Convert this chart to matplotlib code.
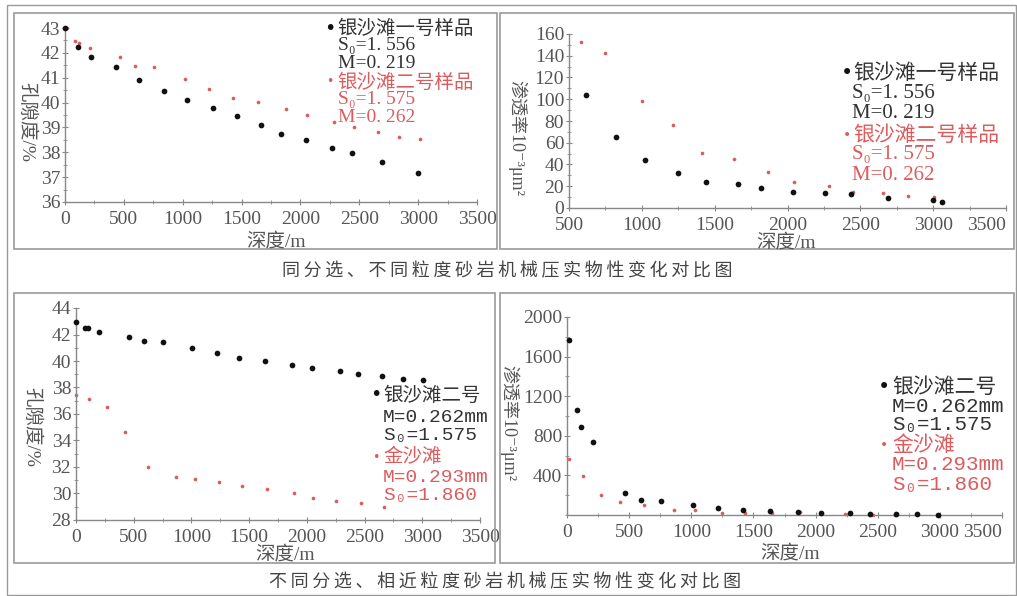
import numpy as np
import matplotlib
matplotlib.use("Agg")
import matplotlib.pyplot as plt
from matplotlib.patches import Rectangle
from matplotlib.ticker import MultipleLocator

plt.rcParams['font.family'] = ['Liberation Serif', 'Noto Sans CJK SC', 'DejaVu Sans']

# 上左: 孔隙度, 同分选不同粒度
tl_black_x = [0, 108, 218, 433, 632, 841, 1034, 1261, 1459, 1669, 1833, 2048, 2266, 2442, 2697, 3003]
tl_black_y = [43.0, 42.23, 41.83, 41.43, 40.91, 40.48, 40.09, 39.80, 39.46, 39.11, 38.75, 38.49, 38.18, 37.97, 37.59, 37.15]
tl_red_x = [14, 85, 119, 212, 467, 598, 759, 1023, 1227, 1425, 1638, 1875, 2057, 2286, 2456, 2657, 2836, 3012]
tl_red_y = [43.0, 42.46, 42.39, 42.19, 41.82, 41.47, 41.45, 40.95, 40.56, 40.20, 40.01, 39.73, 39.49, 39.22, 39.02, 38.83, 38.63, 38.52]

# 上右: 渗透率
tr_black_x = [614, 825, 1019, 1250, 1442, 1657, 1820, 2040, 2257, 2434, 2690, 2996, 3058]
tr_black_y = [103.5, 65.7, 44.2, 32.2, 24.0, 22.1, 18.7, 14.4, 13.5, 12.6, 8.9, 7.4, 5.8]
tr_red_x = [585, 745, 1003, 1215, 1412, 1632, 1867, 2045, 2287, 2447, 2653, 2829, 3007]
tr_red_y = [152.3, 142.5, 98.0, 76.2, 51.0, 45.1, 33.5, 24.3, 20.3, 14.4, 13.5, 11.1, 10.4]

# 下左: 孔隙度, 不同分选相近粒度
bl_black_x = [0, 78, 107, 202, 459, 589, 751, 1008, 1222, 1409, 1637, 1871, 2047, 2287, 2446, 2654, 2830, 3006]
bl_black_y = [42.97, 42.51, 42.46, 42.19, 41.83, 41.48, 41.46, 40.98, 40.57, 40.20, 40.02, 39.72, 39.47, 39.24, 39.04, 38.84, 38.63, 38.53]
bl_red_x = [0, 116, 269, 422, 624, 863, 1034, 1239, 1435, 1655, 1886, 2051, 2255, 2472, 2671]
bl_red_y = [37.40, 37.10, 36.52, 34.63, 31.98, 31.28, 31.10, 30.85, 30.57, 30.32, 30.02, 29.69, 29.46, 29.31, 28.96]

# 下右: 渗透率
br_black_x = [13, 80, 115, 212, 464, 593, 754, 1011, 1217, 1413, 1633, 1861, 2043, 2279, 2440, 2647, 2816, 2985]
br_black_y = [1771, 1060, 886, 738, 218, 151, 141, 97, 74, 47, 44, 30, 20, 20, 13, 13, 8, 5]
br_red_x = [13, 126, 276, 426, 622, 858, 1032, 1247, 1432, 1649, 1877, 2046, 2234, 2462, 2641]
br_red_y = [570, 389, 201, 134, 100, 54, 47, 20, 20, 20, 27, 20, 13, 5, 5]

legend_top = ["银沙滩一号样品", "S₀=1. 556", "M=0. 219", "银沙滩二号样品", "S₀=1. 575", "M=0. 262"]
legend_bottom = ["银沙滩二号", "M=0.262mm", "S₀=1.575", "金沙滩", "M=0.293mm", "S₀=1.860"]
captions = ["同分选、不同粒度砂岩机械压实物性变化对比图", "不同分选、相近粒度砂岩机械压实物性变化对比图"]

W, H = 1017, 596
BLACK = '#111111'
RED = '#dc5c5e'
GRAY = '#555555'
EDGE = '#9a9a9a'

fig = plt.figure(figsize=(W / 100, H / 100), dpi=100)
fig.patch.set_facecolor('white')


def px_rect(x0, y0, x1, y1):
    return [x0 / W, 1 - y1 / H, (x1 - x0) / W, (y1 - y0) / H]


def box(x0, y0, x1, y1, lw=1.2):
    fig.patches.append(Rectangle((x0 / W, 1 - y1 / H), (x1 - x0) / W, (y1 - y0) / H,
                                 transform=fig.transFigure, fill=False,
                                 edgecolor=EDGE, linewidth=lw))


def ftext(x, y, s, **kw):
    fig.text(x / W, 1 - y / H, s, **kw)


# outer frame and panel boxes
box(7, 5, 1016, 595, lw=1.0)
box(14, 13, 497, 249)
box(500, 13, 1014, 249)
box(14, 293, 495, 563)
box(500, 293, 1014, 563)


def make_axes(rect, xlim, ylim, xstep, ystep, yminor, shift_last=False):
    ax = fig.add_axes(px_rect(*rect))
    ax.set_xlim(*xlim)
    ax.set_ylim(*ylim)
    ax.set_xticks(np.arange(xlim[0], xlim[1] + 1, xstep))
    ax.xaxis.set_minor_locator(MultipleLocator(xstep / 2))
    ax.yaxis.set_major_locator(MultipleLocator(ystep))
    ax.yaxis.set_minor_locator(MultipleLocator(yminor))
    for side in ['top', 'right']:
        ax.spines[side].set_visible(False)
    for side in ['left', 'bottom']:
        ax.spines[side].set_color('#888888')
        ax.spines[side].set_linewidth(1.0)
    ax.tick_params(which='major', direction='inout', length=5, width=0.8,
                   colors='#888888', labelcolor=GRAY, labelsize=14, pad=1)
    ax.tick_params(axis='x', which='major', pad=4)
    ax.tick_params(which='minor', direction='inout', length=3, width=0.6, colors='#888888')
    ax.patch.set_alpha(0)
    if shift_last:
        ax.get_xticklabels()[-1].set_horizontalalignment('right')
    return ax


def draw_legend(x_marker, x_text, ys, lines, size, latin_family, indent=0):
    for i, (y, s) in enumerate(zip(ys, lines)):
        fam = ['Noto Sans CJK SC'] if i in (0, 3) else latin_family
        x = x_text if i in (0, 3) else x_text + indent
        ftext(x, y, s, fontsize=size, color='#333333' if i < 3 else RED,
              va='center', ha='left', family=fam)
    ftext(x_marker, ys[0], '•', fontsize=size, color=BLACK, va='center', ha='center',
          family=['DejaVu Sans'])
    ftext(x_marker, ys[3], '•', fontsize=size - 5, color=RED, va='center', ha='center',
          family=['DejaVu Sans'])


serif = ['Liberation Serif', 'DejaVu Serif']
mono = ['Liberation Mono', 'DejaVu Sans Mono']

# ---- top left
ax1 = make_axes((65, 28, 477, 202), (0, 3500), (36, 43), 500, 1, 0.5)
ax1.scatter(tl_red_x, tl_red_y, s=7, color=RED, zorder=2, clip_on=False, linewidths=0)
ax1.scatter(tl_black_x, tl_black_y, s=17, color=BLACK, zorder=3, clip_on=False, linewidths=0)
ftext(276, 241, "深度/m", fontsize=14, color=GRAY, ha='center', va='center')
ftext(27, 122, "孔隙度/%", fontsize=14, color=GRAY, ha='center', va='center', rotation=-90)
draw_legend(330, 337, [28, 46, 63, 82, 99, 117], legend_top, 14, serif, indent=1)

# ---- top right
ax2 = make_axes((569, 34, 1006, 208), (500, 3500), (0, 160), 500, 20, 10, shift_last=True)
ax2.scatter(tr_red_x, tr_red_y, s=7, color=RED, zorder=2, clip_on=False, linewidths=0)
ax2.scatter(tr_black_x, tr_black_y, s=17, color=BLACK, zorder=3, clip_on=False, linewidths=0)
ftext(786, 242, "深度/m", fontsize=14, color=GRAY, ha='center', va='center')
ftext(517, 138, "渗透率10⁻³μm²", fontsize=13, color=GRAY, ha='center', va='center', rotation=-90)
draw_legend(847, 853, [73, 94, 114, 135, 155, 175], legend_top, 15, serif, indent=-1)

# ---- bottom left
ax3 = make_axes((76, 308, 480, 520), (0, 3500), (28, 44), 500, 2, 1)
ax3.scatter(bl_red_x, bl_red_y, s=7, color=RED, zorder=2, clip_on=False, linewidths=0)
ax3.scatter(bl_black_x, bl_black_y, s=17, color=BLACK, zorder=3, clip_on=False, linewidths=0)
ftext(285, 554, "深度/m", fontsize=14, color=GRAY, ha='center', va='center')
ftext(32, 427, "孔隙度/%", fontsize=14, color=GRAY, ha='center', va='center', rotation=-90)
draw_legend(376, 383, [395, 417, 435, 457, 477, 495], legend_bottom, 14, mono)

# ---- bottom right
ax4 = make_axes((567, 317, 1002, 515), (0, 3500), (0, 2000), 500, 400, 200, shift_last=True)
ax4.set_yticks([400, 800, 1200, 1600, 2000])
ax4.scatter(br_red_x, br_red_y, s=7, color=RED, zorder=2, clip_on=False, linewidths=0)
ax4.scatter(br_black_x, br_black_y, s=17, color=BLACK, zorder=3, clip_on=False, linewidths=0)
ftext(790, 553, "深度/m", fontsize=14, color=GRAY, ha='center', va='center')
ftext(509, 423, "渗透率10⁻³μm²", fontsize=13, color=GRAY, ha='center', va='center', rotation=-90)
draw_legend(884, 892, [387, 407, 425, 445, 465, 484], legend_bottom, 15, mono)

# captions
ftext(507, 271, "\u2009".join(captions[0]), fontsize=13, color='#444444', ha='center', va='center',
      family=['Noto Sans CJK SC', 'DejaVu Sans'])
ftext(505, 582, "\u2009".join(captions[1]), fontsize=13, color='#444444', ha='center', va='center',
      family=['Noto Sans CJK SC', 'DejaVu Sans'])

fig.savefig("out.png", dpi=100)
